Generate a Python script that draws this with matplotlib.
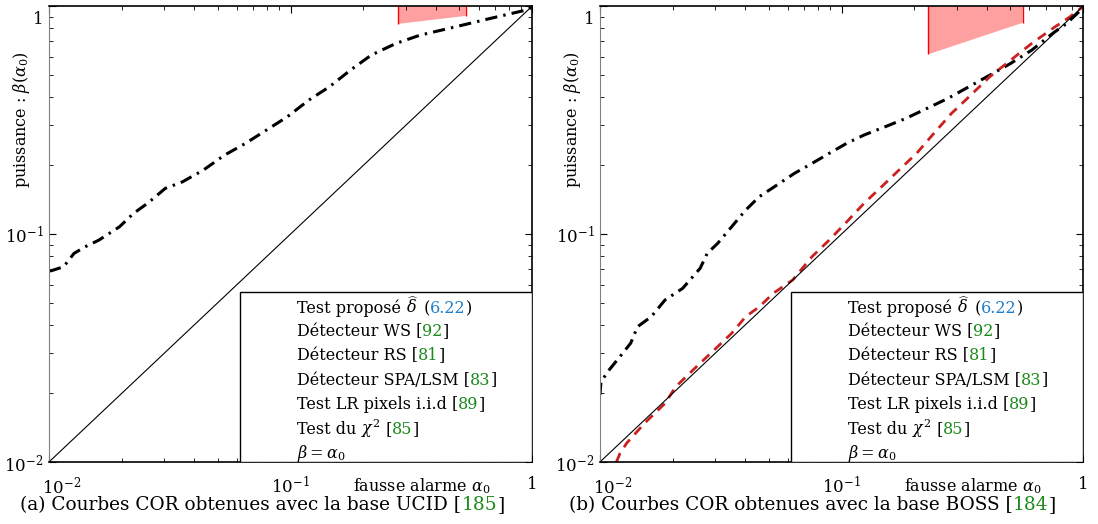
import matplotlib
matplotlib.use("Agg")
import matplotlib.pyplot as plt
from matplotlib.offsetbox import TextArea, HPacker, AnchoredOffsetbox
from matplotlib.patches import Rectangle
from matplotlib.ticker import NullFormatter
from matplotlib.transforms import ScaledTranslation

plt.rcParams['font.family'] = ['DejaVu Serif']
plt.rcParams['mathtext.fontset'] = 'dejavuserif'

# --- données ---
# (a) base UCID : test proposé
ucid_alpha = [0.01, 0.0102, 0.0115, 0.0127, 0.0141, 0.0161, 0.0196, 0.0224, 0.0256,
              0.0303, 0.0357, 0.0436, 0.0533, 0.0651, 0.0795, 0.097, 0.119, 0.145,
              0.177, 0.216, 0.273, 0.344, 0.481, 0.671, 0.968, 1.0]
ucid_beta = [0.069, 0.069, 0.0719, 0.0823, 0.0879, 0.0941, 0.1077, 0.1233, 0.1365,
             0.1586, 0.1695, 0.191, 0.222, 0.250, 0.286, 0.327, 0.387, 0.443,
             0.524, 0.610, 0.686, 0.746, 0.811, 0.883, 0.967, 1.0]

# (b) base BOSS : test proposé
boss_alpha = [0.01, 0.0101, 0.0109, 0.0121, 0.0134, 0.0143, 0.0163, 0.0186, 0.022,
              0.026, 0.0278, 0.0307, 0.0351, 0.0401, 0.0457, 0.054, 0.0638, 0.0754,
              0.0889, 0.105, 0.124, 0.152, 0.185, 0.226, 0.276, 0.337, 0.411,
              0.502, 0.613, 0.748, 0.855, 0.977, 1.0]
boss_beta = [0.0197, 0.0225, 0.0253, 0.029, 0.0332, 0.0392, 0.0434, 0.0514, 0.0578,
             0.0708, 0.0823, 0.091, 0.1077, 0.1274, 0.146, 0.164, 0.1846, 0.204,
             0.226, 0.250, 0.272, 0.296, 0.322, 0.356, 0.394, 0.443, 0.498,
             0.561, 0.641, 0.759, 0.839, 0.96, 1.0]

# (b) base BOSS : test du chi2
chi2_alpha = [0.0117, 0.0121, 0.0129, 0.0138, 0.0153, 0.0169, 0.0186, 0.0206, 0.0251,
              0.0297, 0.0351, 0.0401, 0.0457, 0.0522, 0.0628, 0.0754, 0.0889, 0.105,
              0.124, 0.1466, 0.173, 0.2046, 0.2415, 0.285, 0.337, 0.411, 0.502,
              0.613, 0.748, 0.883, 0.977, 1.0]
chi2_beta = [0.01, 0.0109, 0.0121, 0.0131, 0.0148, 0.0164, 0.0181, 0.0214, 0.0262,
             0.031, 0.0367, 0.0434, 0.048, 0.055, 0.0629, 0.0795, 0.0941, 0.113,
             0.1365, 0.1614, 0.191, 0.226, 0.277, 0.338, 0.400, 0.490, 0.580,
             0.686, 0.798, 0.898, 0.977, 1.0]

diag = [0.01, 1.0]

# zones rouges (coupées par le haut du cadre)
ucid_zone_x = [0.279, 0.531]
ucid_zone_lo = [0.836, 0.906]
boss_zone_x = [0.228, 0.562]
boss_zone_lo = [0.614, 0.845]

ticks = [0.01, 0.1, 1]
tick_labels = [r'$10^{-2}$', r'$10^{-1}$', '1']

BLUE = '#1f7fc8'
GREEN = '#1a8a1a'
legend_rows = [
    [('Test proposé ', 'k'), (r'$\widehat{\delta}$', 'k'), (' (', 'k'), ('6.22', BLUE), (')', 'k')],
    [('Détecteur WS [', 'k'), ('92', GREEN), (']', 'k')],
    [('Détecteur RS [', 'k'), ('81', GREEN), (']', 'k')],
    [('Détecteur SPA/LSM [', 'k'), ('83', GREEN), (']', 'k')],
    [('Test LR pixels i.i.d [', 'k'), ('89', GREEN), (']', 'k')],
    [('Test du ', 'k'), (r'$\chi^2$', 'k'), (' [', 'k'), ('85', GREEN), (']', 'k')],
    [(r'$\beta = \alpha_0$', 'k')],
]
captions = [
    [('(a) Courbes COR obtenues avec la base UCID [', 'k'), ('185', GREEN), (']', 'k')],
    [('(b) Courbes COR obtenues avec la base BOSS [', 'k'), ('184', GREEN), (']', 'k')],
]


def pieces_box(pieces, size):
    return HPacker(children=[TextArea(s, textprops=dict(color=c, fontsize=size))
                             for s, c in pieces],
                   align='baseline', pad=0, sep=0)


def shift(label, dx, dy):
    # décalage en pixels (figure à 100 dpi)
    label.set_transform(label.get_transform()
                        + ScaledTranslation(dx / 100, dy / 100, fig.dpi_scale_trans))


def setup(ax):
    ax.set_xscale('log')
    ax.set_yscale('log')
    ax.set_xlim(0.01, 1)
    ax.set_ylim(0.01, 1)
    ax.set_xticks(ticks, labels=tick_labels)
    ax.set_yticks(ticks, labels=tick_labels)
    ax.xaxis.set_minor_formatter(NullFormatter())
    ax.yaxis.set_minor_formatter(NullFormatter())
    ax.tick_params(which='both', direction='in', top=True, right=True, labelsize=12)
    ax.tick_params(which='major', length=5, width=0.8)
    ax.tick_params(which='minor', length=3, width=0.6)
    ax.tick_params(axis='x', pad=10)
    ax.tick_params(axis='y', pad=4)
    lbls = ax.get_xticklabels()
    lbls[0].set_ha('left')
    shift(lbls[0], -7, 0)
    ylbls = ax.get_yticklabels()
    ylbls[2].set_va('top')
    shift(ylbls[2], 0, -5)
    for s in ['top', 'right', 'bottom']:
        ax.spines[s].set_linewidth(1.2)
    ax.spines['left'].set_color('#808080')
    ax.spines['left'].set_linewidth(0.8)
    ax.set_xlabel(r'fausse alarme $\alpha_0$', fontsize=11.5, va='center')
    ax.xaxis.set_label_coords(0.771, -0.054)
    ax.set_ylabel(r'puissance : $\beta(\alpha_0)$', fontsize=11.5, va='center')
    ax.yaxis.set_label_coords(-0.057, 0.75)

    # cadre de légende
    ax.add_patch(Rectangle((0.395, 0.0), 0.605, 0.373, transform=ax.transAxes,
                           facecolor='white', edgecolor='black', lw=1.0, zorder=5))
    for i, row in enumerate(legend_rows):
        box = AnchoredOffsetbox(loc='center left', child=pieces_box(row, 11.5),
                                pad=0, borderpad=0, frameon=False,
                                bbox_to_anchor=(0.513, 0.3406 - 0.0536 * i),
                                bbox_transform=ax.transAxes)
        box.set_zorder(6)
        ax.add_artist(box)


fig = plt.figure(figsize=(10.98, 5.24), dpi=100)
ax1 = fig.add_axes([0.0446, 0.1183, 0.440, 0.870])
ax2 = fig.add_axes([0.5464, 0.1183, 0.440, 0.870])

dashdot = (0, (4, 2, 0.8, 2))

ax1.plot(ucid_alpha, ucid_beta, color='black', lw=2.2, linestyle=dashdot)
ax1.plot(diag, diag, color='black', lw=0.8)
ax1.fill_between(ucid_zone_x, ucid_zone_lo, [1.5, 1.5], facecolor='#ffa0a0', lw=0)
ax1.vlines(ucid_zone_x, ucid_zone_lo, 1.5, color='red', lw=1)

ax2.plot(boss_alpha, boss_beta, color='black', lw=2.2, linestyle=dashdot)
ax2.plot(chi2_alpha, chi2_beta, color='#cc2020', lw=2, linestyle=(0, (3.5, 2.5)))
ax2.plot(diag, diag, color='black', lw=0.8)
ax2.fill_between(boss_zone_x, boss_zone_lo, [1.5, 1.5], facecolor='#ffa0a0', lw=0)
ax2.vlines(boss_zone_x, boss_zone_lo, 1.5, color='red', lw=1)

for ax in (ax1, ax2):
    setup(ax)

for cap, xc in zip(captions, [0.239, 0.740]):
    fig.add_artist(AnchoredOffsetbox(loc='center', child=pieces_box(cap, 13.3),
                                     pad=0, borderpad=0, frameon=False,
                                     bbox_to_anchor=(xc, 0.036),
                                     bbox_transform=fig.transFigure))

fig.savefig('out.png', dpi=100)
